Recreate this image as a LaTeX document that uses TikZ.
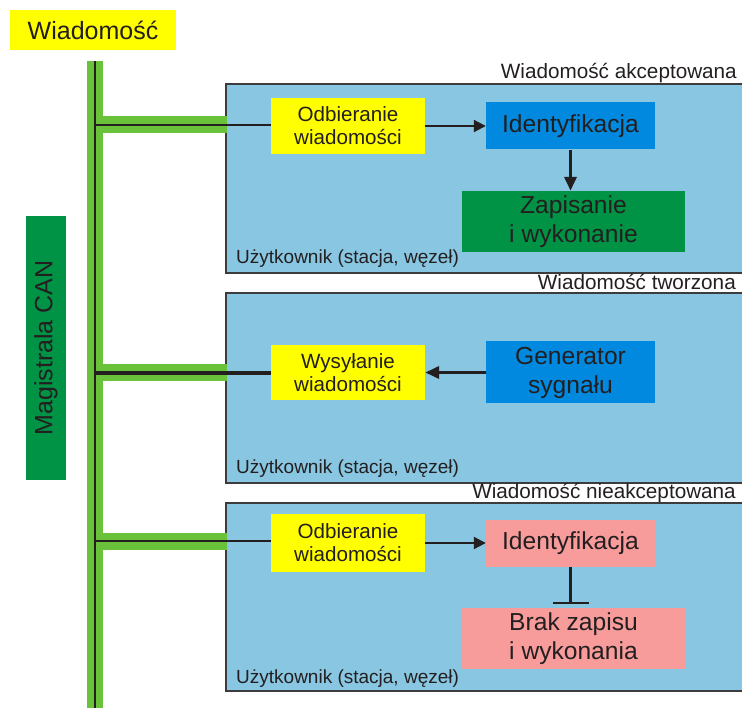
\documentclass[tikz,border=0pt]{standalone}
\usepackage{fontspec}
\setmainfont{Liberation Sans}
\usetikzlibrary{arrows.meta}

\definecolor{ink}{HTML}{231F20}
\definecolor{signyellow}{HTML}{FFFF00}
\definecolor{busgreen}{HTML}{6AC23A}
\definecolor{darkgreen}{HTML}{009245}
\definecolor{panelblue}{HTML}{88C6E1}
\definecolor{idblue}{HTML}{0089DE}
\definecolor{softred}{HTML}{F79B9B}
\definecolor{edge}{HTML}{3C3C3C}

\tikzset{
  blockbox/.style={inner sep=0pt, align=center, text=ink},
  midtext/.style={font=\fontsize{20.6}{23}\selectfont},
  bigtext/.style={font=\fontsize{24.6}{29}\selectfont},
  panel/.style={fill=panelblue, draw=edge, line width=1.2pt, inner sep=0pt,
                minimum width=520pt},
  paneltitle/.style={anchor=base east, text=ink, inner sep=0pt,
                     font=\fontsize{20.7}{23}\selectfont},
  usernote/.style={anchor=base west, text=ink, inner sep=0pt,
                   font=\fontsize{19}{21}\selectfont},
  busfill/.style={draw=busgreen, line width=16pt},
  tapfill/.style={draw=busgreen, line width=17pt},
  buscore/.style={draw=ink, line width=2.5pt},
  thinarrow/.style={draw=ink, line width=2pt,
                    -{Triangle[length=12pt,width=12pt]}},
  thickarrow/.style={draw=ink, line width=3.5pt,
                     -{Triangle[length=14pt,width=12pt]}},
  blockline/.style={draw=ink, line width=3.5pt,
                    -{Bar[width=36pt,line width=2pt]}, shorten >=4pt}
}

\begin{document}
\begin{tikzpicture}[x=1pt,y=-1pt]
\clip (0,0) rectangle (742,708);

% bus ends and tap points
\coordinate (busTop) at (95,61);
\coordinate (busBot) at (95,712);
\coordinate (tap1) at (95,125);
\coordinate (tap2) at (95,373);
\coordinate (tap3) at (95,541);

% title and bus label
\node[blockbox, fill=signyellow, minimum width=166pt, minimum height=40pt,
      font=\fontsize{25}{30}\selectfont] (msg) at (93,30) {Wiadomość};
\node[blockbox, fill=darkgreen, rotate=90, minimum width=264pt,
      minimum height=40pt, font=\fontsize{25}{30}\selectfont]
      (can) at (46,348) {Magistrala CAN};

% station panels
\node[panel, minimum height=189pt] (p1) at (486,178.5) {};
\node[panel, minimum height=190pt] (p2) at (486,388) {};
\node[panel, minimum height=188pt] (p3) at (486,597) {};

\node[paneltitle] (t1) at (737,79) {Wiadomość akceptowana};
\node[paneltitle] (t2) at (736,290) {Wiadomość tworzona};
\node[paneltitle] (t3) at (736,498) {Wiadomość nieakceptowana};

\node[usernote] (u1) at (236,264) {Użytkownik (stacja, węzeł)};
\node[usernote] (u2) at (236,474) {Użytkownik (stacja, węzeł)};
\node[usernote] (u3) at (236,683) {Użytkownik (stacja, węzeł)};

% accepted message
\node[blockbox, midtext, fill=signyellow, minimum width=154pt,
      minimum height=56pt] (odb1) at (348,126) {Odbieranie\\wiadomości};
\node[blockbox, bigtext, fill=idblue, minimum width=169pt,
      minimum height=47pt] (id1) at (570.5,126) {Identyfikacja};
\node[blockbox, bigtext, fill=darkgreen, minimum width=223pt,
      minimum height=61pt] (zap) at (573.5,221.5) {Zapisanie\\i wykonanie};

% created message
\node[blockbox, midtext, fill=signyellow, minimum width=154pt,
      minimum height=55pt] (wys) at (348,372.5) {Wysyłanie\\wiadomości};
\node[blockbox, bigtext, fill=idblue, minimum width=169pt,
      minimum height=62pt] (gen) at (570.5,372.5) {Generator\\sygnału};

% rejected message
\node[blockbox, midtext, fill=signyellow, minimum width=154pt,
      minimum height=58pt] (odb3) at (348,543) {Odbieranie\\wiadomości};
\node[blockbox, bigtext, fill=softred, minimum width=169pt,
      minimum height=47pt] (id3) at (570.5,543) {Identyfikacja};
\node[blockbox, bigtext, fill=softred, minimum width=223pt,
      minimum height=61pt] (brak) at (573.5,638.5) {Brak zapisu\\i wykonania};

% CAN bus with its taps
\draw[busfill] (busTop) -- (busBot);
\draw[tapfill] ([xshift=-8pt]tap1) -- ([xshift=2pt]p1.west |- tap1);
\draw[tapfill] ([xshift=-8pt]tap2) -- ([xshift=2pt]p2.west |- tap2);
\draw[tapfill] ([xshift=-8pt]tap3) -- ([xshift=2pt]p3.west |- tap3);
\draw[buscore] (busTop) -- (busBot);
\draw[draw=ink, line width=2pt] (tap1) -- (odb1.west |- tap1);
\draw[draw=ink, line width=4pt] (tap2) -- (wys.west |- tap2);
\draw[draw=ink, line width=2pt] (tap3) -- (odb3.west |- tap3);

% flow inside the stations
\draw[thinarrow] (odb1.east) -- (id1.west);
\draw[thickarrow] (id1.south) -- (id1.south |- zap.north);
\draw[thickarrow] (gen.west) -- (wys.east);
\draw[thinarrow] (odb3.east) -- (id3.west);
\draw[blockline] (id3.south) -- (id3.south |- brak.north);
\end{tikzpicture}
\end{document}
